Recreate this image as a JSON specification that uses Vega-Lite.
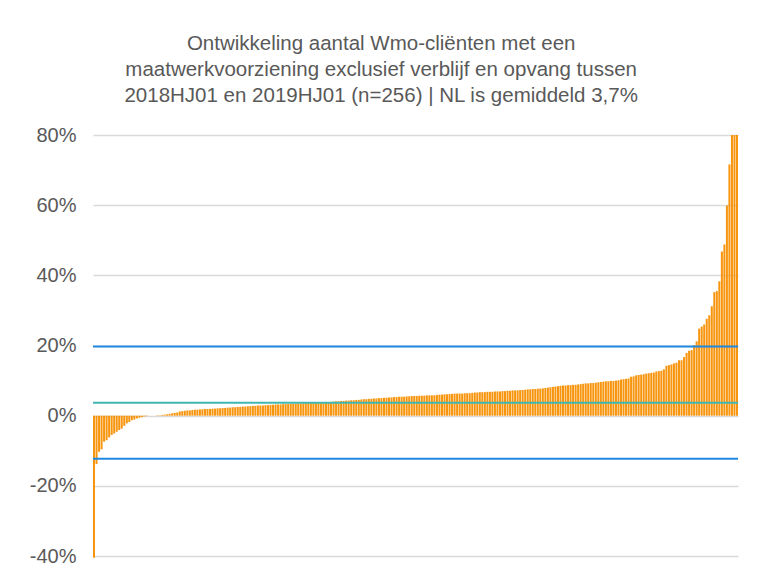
{
  "$schema": "https://vega.github.io/schema/vega-lite/v6.json",
  "width": 645,
  "height": 421,
  "autosize": {"type": "none"},
  "padding": {"left": 93, "top": 135, "right": 24, "bottom": 24},
  "background": "white",
  "title": {
    "text": ["Ontwikkeling aantal Wmo-cliënten met een", "maatwerkvoorziening exclusief verblijf en opvang tussen", "2018HJ01 en 2019HJ01 (n=256) | NL is gemiddeld 3,7%"],
    "fontSize": 20.5,
    "font": "Liberation Sans",
    "color": "#595959",
    "fontWeight": "normal",
    "lineHeight": 26,
    "anchor": "middle",
    "frame": "bounds",
    "offset": 19,
    "dx": -3
  },
  "config": {"view": {"stroke": null}},
  "datasets": {
    "bars": [
      {"i":0,"v":-40.5},{"i":1,"v":-13.8},{"i":2,"v":-10.3},{"i":3,"v":-9.6},{"i":4,"v":-7.4},{"i":5,"v":-7.0},{"i":6,"v":-6.2},{"i":7,"v":-5.5},{"i":8,"v":-5.1},{"i":9,"v":-4.6},
      {"i":10,"v":-4.1},{"i":11,"v":-3.7},{"i":12,"v":-2.9},{"i":13,"v":-2.2},{"i":14,"v":-1.8},{"i":15,"v":-1.3},{"i":16,"v":-1.1},{"i":17,"v":-0.8},{"i":18,"v":-0.6},{"i":19,"v":-0.4},
      {"i":20,"v":-0.2},{"i":21,"v":-0.1},{"i":22,"v":0},{"i":23,"v":0},{"i":24,"v":0},{"i":25,"v":0.1},{"i":26,"v":0.1},{"i":27,"v":0.2},{"i":28,"v":0.3},{"i":29,"v":0.4},
      {"i":30,"v":0.5},{"i":31,"v":0.7},{"i":32,"v":0.8},{"i":33,"v":0.9},{"i":34,"v":1.2},{"i":35,"v":1.3},{"i":36,"v":1.4},{"i":37,"v":1.5},{"i":38,"v":1.5},{"i":39,"v":1.6},
      {"i":40,"v":1.7},{"i":41,"v":1.7},{"i":42,"v":1.8},{"i":43,"v":1.8},{"i":44,"v":1.9},{"i":45,"v":1.9},{"i":46,"v":1.9},{"i":47,"v":2.0},{"i":48,"v":2.0},{"i":49,"v":2.1},
      {"i":50,"v":2.1},{"i":51,"v":2.2},{"i":52,"v":2.2},{"i":53,"v":2.3},{"i":54,"v":2.3},{"i":55,"v":2.4},{"i":56,"v":2.4},{"i":57,"v":2.5},{"i":58,"v":2.5},{"i":59,"v":2.6},
      {"i":60,"v":2.6},{"i":61,"v":2.7},{"i":62,"v":2.7},{"i":63,"v":2.8},{"i":64,"v":2.8},{"i":65,"v":2.9},{"i":66,"v":2.9},{"i":67,"v":2.9},{"i":68,"v":3.0},{"i":69,"v":3.0},
      {"i":70,"v":3.1},{"i":71,"v":3.1},{"i":72,"v":3.2},{"i":73,"v":3.2},{"i":74,"v":3.2},{"i":75,"v":3.3},{"i":76,"v":3.3},{"i":77,"v":3.3},{"i":78,"v":3.4},{"i":79,"v":3.4},
      {"i":80,"v":3.4},{"i":81,"v":3.5},{"i":82,"v":3.5},{"i":83,"v":3.5},{"i":84,"v":3.6},{"i":85,"v":3.6},{"i":86,"v":3.6},{"i":87,"v":3.7},{"i":88,"v":3.7},{"i":89,"v":3.7},
      {"i":90,"v":3.8},{"i":91,"v":3.8},{"i":92,"v":3.8},{"i":93,"v":3.9},{"i":94,"v":3.9},{"i":95,"v":4.0},{"i":96,"v":4.1},{"i":97,"v":4.1},{"i":98,"v":4.2},{"i":99,"v":4.2},
      {"i":100,"v":4.3},{"i":101,"v":4.3},{"i":102,"v":4.4},{"i":103,"v":4.4},{"i":104,"v":4.5},{"i":105,"v":4.5},{"i":106,"v":4.6},{"i":107,"v":4.7},{"i":108,"v":4.7},{"i":109,"v":4.8},
      {"i":110,"v":4.8},{"i":111,"v":4.9},{"i":112,"v":4.9},{"i":113,"v":5.0},{"i":114,"v":5.0},{"i":115,"v":5.1},{"i":116,"v":5.1},{"i":117,"v":5.2},{"i":118,"v":5.2},{"i":119,"v":5.3},
      {"i":120,"v":5.3},{"i":121,"v":5.4},{"i":122,"v":5.4},{"i":123,"v":5.4},{"i":124,"v":5.5},{"i":125,"v":5.5},{"i":126,"v":5.6},{"i":127,"v":5.6},{"i":128,"v":5.6},{"i":129,"v":5.7},
      {"i":130,"v":5.7},{"i":131,"v":5.7},{"i":132,"v":5.8},{"i":133,"v":5.8},{"i":134,"v":5.8},{"i":135,"v":5.8},{"i":136,"v":5.9},{"i":137,"v":6.0},{"i":138,"v":6.0},{"i":139,"v":6.1},
      {"i":140,"v":6.1},{"i":141,"v":6.2},{"i":142,"v":6.2},{"i":143,"v":6.3},{"i":144,"v":6.3},{"i":145,"v":6.3},{"i":146,"v":6.3},{"i":147,"v":6.4},{"i":148,"v":6.4},{"i":149,"v":6.4},
      {"i":150,"v":6.5},{"i":151,"v":6.6},{"i":152,"v":6.6},{"i":153,"v":6.7},{"i":154,"v":6.7},{"i":155,"v":6.7},{"i":156,"v":6.8},{"i":157,"v":6.8},{"i":158,"v":6.8},{"i":159,"v":6.9},
      {"i":160,"v":6.9},{"i":161,"v":6.9},{"i":162,"v":7.0},{"i":163,"v":7.0},{"i":164,"v":7.1},{"i":165,"v":7.1},{"i":166,"v":7.2},{"i":167,"v":7.2},{"i":168,"v":7.2},{"i":169,"v":7.3},
      {"i":170,"v":7.3},{"i":171,"v":7.4},{"i":172,"v":7.5},{"i":173,"v":7.5},{"i":174,"v":7.6},{"i":175,"v":7.6},{"i":176,"v":7.7},{"i":177,"v":7.7},{"i":178,"v":7.8},{"i":179,"v":7.9},
      {"i":180,"v":8.0},{"i":181,"v":8.1},{"i":182,"v":8.2},{"i":183,"v":8.3},{"i":184,"v":8.4},{"i":185,"v":8.5},{"i":186,"v":8.6},{"i":187,"v":8.6},{"i":188,"v":8.7},{"i":189,"v":8.7},
      {"i":190,"v":8.8},{"i":191,"v":8.8},{"i":192,"v":8.9},{"i":193,"v":9.0},{"i":194,"v":9.1},{"i":195,"v":9.2},{"i":196,"v":9.2},{"i":197,"v":9.3},{"i":198,"v":9.3},{"i":199,"v":9.4},
      {"i":200,"v":9.5},{"i":201,"v":9.6},{"i":202,"v":9.7},{"i":203,"v":9.8},{"i":204,"v":9.8},{"i":205,"v":9.9},{"i":206,"v":9.9},{"i":207,"v":10.0},{"i":208,"v":10.1},{"i":209,"v":10.3},
      {"i":210,"v":10.4},{"i":211,"v":10.5},{"i":212,"v":10.6},{"i":213,"v":11.1},{"i":214,"v":11.2},{"i":215,"v":11.5},{"i":216,"v":11.6},{"i":217,"v":11.7},{"i":218,"v":11.8},{"i":219,"v":12.0},
      {"i":220,"v":12.1},{"i":221,"v":12.2},{"i":222,"v":12.3},{"i":223,"v":12.6},{"i":224,"v":12.7},{"i":225,"v":12.8},{"i":226,"v":13.2},{"i":227,"v":14.2},{"i":228,"v":14.4},{"i":229,"v":14.6},
      {"i":230,"v":14.9},{"i":231,"v":15.1},{"i":232,"v":15.8},{"i":233,"v":15.8},{"i":234,"v":16.7},{"i":235,"v":17.9},{"i":236,"v":18.5},{"i":237,"v":18.7},{"i":238,"v":20.1},{"i":239,"v":21.2},
      {"i":240,"v":24.8},{"i":241,"v":25.4},{"i":242,"v":26.0},{"i":243,"v":27.6},{"i":244,"v":28.6},{"i":245,"v":31.2},{"i":246,"v":35.2},{"i":247,"v":35.5},{"i":248,"v":38.3},{"i":249,"v":46.8},
      {"i":250,"v":48.8},{"i":251,"v":59.9},{"i":252,"v":71.6},{"i":253,"v":80},{"i":254,"v":80},{"i":255,"v":80}
    ],
    "lines": [
      {"v": 19.7, "k": "boven"},
      {"v": 3.7, "k": "NL"},
      {"v": -12.3, "k": "onder"}
    ]
  },
  "layer": [
    {
      "data": {"name": "bars"},
      "mark": {"type": "bar", "color": "#F7950F"},
      "encoding": {
        "x": {"field": "i", "type": "ordinal", "axis": null, "scale": {"paddingInner": 0.2, "paddingOuter": 0}},
        "y": {
          "field": "v", "type": "quantitative",
          "scale": {"domain": [-40, 80], "nice": false, "zero": false},
          "axis": {
            "values": [-40, -20, 0, 20, 40, 60, 80],
            "labelExpr": "datum.value + '%'",
            "ticks": false, "domain": false, "grid": true,
            "gridColor": "#d9d9d9", "gridWidth": 1.3,
            "labelFontSize": 20, "labelFont": "Liberation Sans", "labelColor": "#595959",
            "labelPadding": 17, "title": null
          }
        }
      }
    },
    {
      "data": {"name": "lines"},
      "mark": {"type": "rule", "strokeWidth": 2},
      "encoding": {
        "y": {"field": "v", "type": "quantitative"},
        "color": {"field": "k", "type": "nominal", "scale": {"domain": ["boven", "NL", "onder"], "range": ["#1F88DF", "#3FB8B3", "#1F88DF"]}, "legend": null}
      }
    }
  ]
}
